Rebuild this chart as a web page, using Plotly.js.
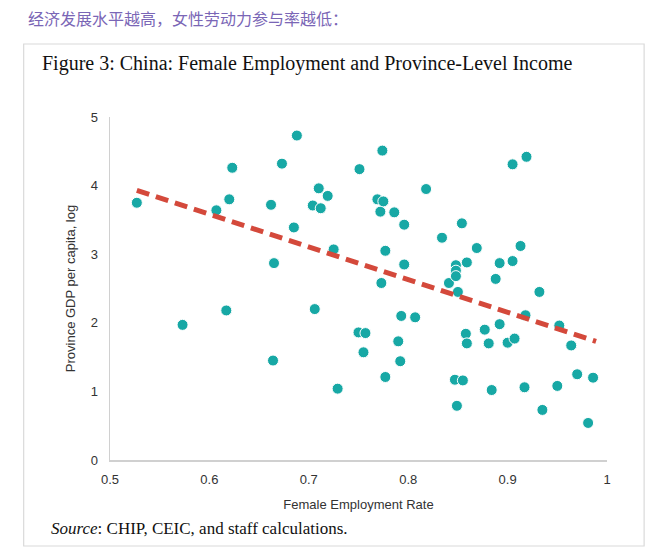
<!DOCTYPE html>
<html>
<head>
<meta charset="utf-8">
<script src="https://cdn.plot.ly/plotly-3.0.1.min.js"></script>
<style>
  html, body { margin: 0; padding: 0; background: #ffffff; }
  #chart { width: 660px; height: 560px; }
</style>
</head>
<body>
<div id="chart"></div>
<script>
// ---- Data ----
const femaleEmploymentRate = [
  0.527, 0.573, 0.607, 0.617, 0.620, 0.623, 0.662, 0.664, 0.665, 0.673,
  0.685, 0.688, 0.704, 0.706, 0.710, 0.712, 0.719, 0.725, 0.729, 0.750,
  0.751, 0.755, 0.757, 0.769, 0.772, 0.773, 0.774, 0.775, 0.777, 0.777,
  0.786, 0.790, 0.792, 0.793, 0.796, 0.796, 0.807, 0.818, 0.834, 0.841,
  0.847, 0.848, 0.848, 0.848, 0.849, 0.850, 0.854, 0.855, 0.858, 0.859,
  0.859, 0.869, 0.877, 0.881, 0.884, 0.888, 0.892, 0.892, 0.900, 0.905,
  0.905, 0.907, 0.913, 0.917, 0.918, 0.919, 0.932, 0.935, 0.950, 0.952,
  0.964, 0.970, 0.981, 0.986
];
const gdpPerCapitaLog = [
  3.75, 1.97, 3.64, 2.18, 3.80, 4.26, 3.72, 1.45, 2.87, 4.32,
  3.39, 4.73, 3.71, 2.20, 3.96, 3.67, 3.85, 3.07, 1.04, 1.86,
  4.24, 1.57, 1.85, 3.80, 3.62, 2.58, 4.51, 3.77, 3.05, 1.21,
  3.61, 1.73, 1.44, 2.10, 3.43, 2.85, 2.08, 3.95, 3.24, 2.58,
  1.17, 2.84, 2.76, 2.68, 0.79, 2.45, 3.45, 1.16, 1.84, 1.70,
  2.88, 3.09, 1.90, 1.70, 1.02, 2.64, 1.98, 2.87, 1.71, 2.90,
  4.31, 1.77, 3.12, 1.06, 2.11, 4.42, 2.45, 0.73, 1.08, 1.96,
  1.67, 1.25, 0.54, 1.20
];
const trendX = [0.527, 0.989];
const trendY = [3.93, 1.73];

const xTickVals = [0.5, 0.6, 0.7, 0.8, 0.9, 1];
const xTickText = ["0.5", "0.6", "0.7", "0.8", "0.9", "1"];
const yTickVals = [0, 1, 2, 3, 4, 5];
const yTickText = ["0", "1", "2", "3", "4", "5"];

const headline = "经济发展水平越高，女性劳动力参与率越低：";
const figureTitle = "Figure 3: China: Female Employment and Province-Level Income";
const sourceNote = "<i>Source</i>: CHIP, CEIC, and staff calculations.";
const xAxisTitle = "Female Employment Rate";
const yAxisTitle = "Province GDP per capita, log";

// ---- Chart ----
const tickFont = { family: "Liberation Sans, Arial, sans-serif", size: 13, color: "#333333" };

const traces = [
  {
    type: "scatter",
    mode: "markers",
    x: femaleEmploymentRate,
    y: gdpPerCapitaLog,
    marker: { color: "#17a8a5", size: 11, line: { color: "#ffffff", width: 1 } },
    hoverinfo: "x+y",
    showlegend: false
  },
  {
    type: "scatter",
    mode: "lines",
    x: trendX,
    y: trendY,
    line: { color: "#d4493b", width: 5, dash: "13px,7px" },
    hoverinfo: "skip",
    showlegend: false
  }
];

const layout = {
  width: 660,
  height: 560,
  margin: { l: 110, r: 53, t: 117, b: 100 },
  paper_bgcolor: "#ffffff",
  plot_bgcolor: "#ffffff",
  showlegend: false,
  xaxis: {
    range: [0.5, 1],
    tickvals: xTickVals,
    ticktext: xTickText,
    showgrid: false,
    zeroline: false,
    showline: true,
    linecolor: "#d0d0d0",
    linewidth: 1.5,
    ticks: "outside",
    ticklen: 7,
    tickcolor: "rgba(0,0,0,0)",
    tickfont: tickFont,
    title: { text: xAxisTitle, font: tickFont, standoff: 14 },
    fixedrange: true
  },
  yaxis: {
    range: [0, 5],
    tickvals: yTickVals,
    ticktext: yTickText,
    showgrid: false,
    zeroline: false,
    showline: true,
    linecolor: "#d0d0d0",
    linewidth: 1.5,
    ticks: "outside",
    ticklen: 8,
    tickcolor: "rgba(0,0,0,0)",
    tickfont: tickFont,
    title: { text: yAxisTitle, font: tickFont, standoff: 12 },
    fixedrange: true
  },
  shapes: [
    {
      type: "rect",
      xref: "paper", yref: "paper",
      x0: -0.1737, x1: 1.0747, y0: -0.2507, y1: 1.2128,
      line: { color: "#dadada", width: 1.2 },
      fillcolor: "rgba(0,0,0,0)",
      layer: "below"
    }
  ],
  annotations: [
    {
      text: headline,
      xref: "paper", yref: "paper",
      x: -0.1697, y: 1.2886,
      xanchor: "left", yanchor: "middle",
      showarrow: false,
      font: { family: "Noto Sans CJK SC, sans-serif", size: 16, color: "#7a66b6" }
    },
    {
      text: figureTitle,
      xref: "paper", yref: "paper",
      x: -0.1414, y: 1.1574,
      xanchor: "left", yanchor: "middle",
      showarrow: false,
      font: { family: "Liberation Serif, serif", size: 20, color: "#111111" }
    },
    {
      text: sourceNote,
      xref: "paper", yref: "paper",
      x: -0.1232, y: -0.1983,
      xanchor: "left", yanchor: "middle",
      showarrow: false,
      font: { family: "Liberation Serif, serif", size: 17, color: "#111111" }
    }
  ]
};

Plotly.newPlot("chart", traces, layout, { displayModeBar: false, staticPlot: true });
</script>
</body>
</html>
